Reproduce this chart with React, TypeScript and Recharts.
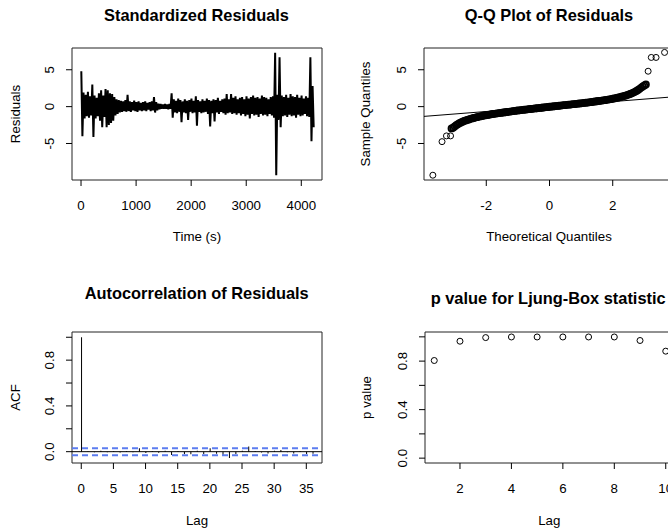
import React from 'react';
import {
  ComposedChart,
  ScatterChart,
  Line,
  Scatter,
  Bar,
  XAxis,
  YAxis,
  ReferenceLine,
  ReferenceArea,
} from 'recharts';

const FONT = '"Liberation Sans", Arial, Helvetica, sans-serif';
const TICK_FS = 13.3;

// ---------- Panel 1: standardized residuals (envelope per 40 s bin) ----------
const tsBinStart = 5;
const tsBinWidth = 40;
const tsHigh = [
  4.8, 1.9, 1.6, 2.0, 1.4, 3.0, 1.5, 1.2, 1.8, 2.2, 1.5, 2.4, 2.2, 1.8, 1.7, 1.3, 1.0, 0.9, 0.8, 0.7,
  0.9, 1.6, 0.7, 0.6, 0.8, 0.6, 0.7, 0.5, 0.6, 0.7, 0.5, 0.6, 0.7, 1.3, 0.6, 0.4, 0.35, 0.3, 0.35, 0.3,
  0.35, 1.8, 1.0, 0.8, 1.1, 0.9, 0.7, 1.0, 0.8, 0.9, 1.1, 0.8, 1.4, 0.9, 0.7, 1.0, 0.8, 1.1, 0.9, 0.8,
  1.0, 0.9, 1.2, 0.8, 1.0, 1.1, 1.7, 1.0, 1.7, 1.2, 1.4, 1.0, 1.2, 1.3, 1.0, 1.4, 1.1, 1.3, 1.5, 1.2,
  1.3, 1.1, 1.5, 1.3, 1.2, 1.0, 1.3, 1.4, 7.3, 1.6, 6.7, 1.5, 1.3, 1.6, 1.2, 1.7, 1.4, 1.3, 1.6, 1.2,
  1.5, 1.1, 1.4, 1.2, 6.7, 2.8,
];
const tsLow = [
  -4.0, -1.6, -1.3, -1.5, -1.2, -4.1, -1.6, -1.3, -1.9, -2.8, -1.4, -2.8, -2.5, -2.2, -1.9, -1.2, -1.0, -0.8, -0.7, -0.6,
  -0.7, -0.6, -0.7, -0.5, -0.6, -0.7, -0.5, -0.6, -0.5, -0.6, -0.4, -0.6, -0.5, -0.8, -0.5, -0.35, -0.3, -0.3, -0.3, -0.35,
  -0.3, -1.5, -0.8, -0.9, -0.7, -2.1, -0.8, -0.9, -1.8, -0.7, -0.9, -0.8, -2.6, -0.7, -0.9, -0.8, -0.7, -1.0, -2.7, -0.9,
  -2.0, -0.8, -1.0, -0.7, -0.9, -1.1, -0.9, -0.8, -1.0, -0.9, -1.1, -0.9, -1.2, -1.0, -1.3, -1.1, -1.6, -1.0, -1.2, -1.1,
  -1.4, -1.0, -1.2, -1.1, -1.3, -1.0, -1.2, -1.5, -9.3, -1.8, -2.8, -1.3, -1.2, -1.4, -1.1, -1.3, -1.2, -1.5, -1.1, -1.3,
  -1.2, -1.0, -1.3, -1.4, -4.7, -2.8,
];
const tsXTicks = [0, 1000, 2000, 3000, 4000];
const tsYTicks = [-5, 0, 5];

// ---------- Panel 2: Q-Q plot ----------
const qqTheoretical = [
  -3.1, -3.05, -3.0, -2.95, -2.9, -2.85, -2.8, -2.75, -2.7, -2.65, -2.6, -2.55, -2.5, -2.45, -2.4, -2.35,
  -2.3, -2.25, -2.2, -2.15, -2.1, -2.05, -2.0, -1.95, -1.9, -1.85, -1.8, -1.75, -1.7, -1.65, -1.6, -1.55,
  -1.5, -1.45, -1.4, -1.35, -1.3, -1.25, -1.2, -1.15, -1.1, -1.05, -1.0, -0.95, -0.9, -0.85, -0.8, -0.75,
  -0.7, -0.65, -0.6, -0.55, -0.5, -0.45, -0.4, -0.35, -0.3, -0.25, -0.2, -0.15, -0.1, -0.05, 0.0, 0.05,
  0.1, 0.15, 0.2, 0.25, 0.3, 0.35, 0.4, 0.45, 0.5, 0.55, 0.6, 0.65, 0.7, 0.75, 0.8, 0.85,
  0.9, 0.95, 1.0, 1.05, 1.1, 1.15, 1.2, 1.25, 1.3, 1.35, 1.4, 1.45, 1.5, 1.55, 1.6, 1.65,
  1.7, 1.75, 1.8, 1.85, 1.9, 1.95, 2.0, 2.05, 2.1, 2.15, 2.2, 2.25, 2.3, 2.35, 2.4, 2.45,
  2.5, 2.55, 2.6, 2.65, 2.7, 2.75, 2.8, 2.85, 2.9, 2.95, 3.0, 3.05,
];
const qqSample = [
  -2.95, -2.85, -2.68, -2.52, -2.38, -2.25, -2.14, -2.04, -1.95, -1.87, -1.8, -1.73, -1.66, -1.6, -1.54, -1.48,
  -1.43, -1.38, -1.33, -1.28, -1.24, -1.2, -1.16, -1.12, -1.08, -1.04, -1.0, -0.97, -0.94, -0.91, -0.88, -0.85,
  -0.82, -0.79, -0.76, -0.73, -0.7, -0.67, -0.64, -0.61, -0.58, -0.55, -0.52, -0.5, -0.47, -0.45, -0.42, -0.4,
  -0.37, -0.35, -0.32, -0.3, -0.27, -0.25, -0.22, -0.2, -0.17, -0.15, -0.12, -0.1, -0.07, -0.05, -0.02, 0.0,
  0.03, 0.05, 0.07, 0.1, 0.12, 0.14, 0.17, 0.19, 0.21, 0.24, 0.26, 0.28, 0.31, 0.33, 0.35, 0.38,
  0.4, 0.43, 0.45, 0.48, 0.5, 0.53, 0.55, 0.58, 0.61, 0.64, 0.67, 0.7, 0.73, 0.76, 0.79, 0.82,
  0.85, 0.88, 0.92, 0.95, 0.99, 1.03, 1.07, 1.11, 1.16, 1.21, 1.26, 1.31, 1.37, 1.43, 1.49, 1.56,
  1.63, 1.71, 1.8, 1.9, 2.01, 2.13, 2.27, 2.42, 2.58, 2.74, 2.88, 3.0,
];
const qqTailX = [-3.69, -3.4, -3.26, -3.13, 3.12, 3.22, 3.37, 3.64];
const qqTailY = [-9.3, -4.75, -3.97, -3.97, 4.8, 6.67, 6.67, 7.35];
const qqLineIntercept = 0.01;
const qqLineSlope = 0.336;
const qqXTicks = [-2, 0, 2];

// ---------- Panel 3: ACF ----------
const acfLags = [
  0, 1, 2, 3, 4, 5, 6, 7, 8, 9, 10, 11, 12, 13, 14, 15, 16, 17, 18, 19, 20, 21, 22, 23, 24, 25, 26, 27, 28,
  29, 30, 31, 32, 33, 34, 35, 36,
];
const acfValues = [
  1.0, 0.004, -0.006, 0.008, -0.004, 0.005, -0.008, 0.006, -0.005, 0.029, -0.012, 0.006, -0.01, 0.008,
  -0.03, 0.005, -0.02, -0.022, 0.007, -0.02, 0.03, -0.018, -0.028, -0.055, -0.02, 0.008, 0.045, 0.006,
  -0.008, -0.015, 0.007, 0.015, -0.006, -0.015, 0.005, -0.02, -0.018,
];
const acfCI = 0.0302;
const acfXTicks = [0, 5, 10, 15, 20, 25, 30, 35];
const unitYTicks = [0, 0.2, 0.4, 0.6, 0.8, 1.0];
const unitYLabels = [0, 0.4, 0.8];

// ---------- Panel 4: Ljung-Box p values ----------
const lbLags = [1, 2, 3, 4, 5, 6, 7, 8, 9, 10];
const lbPValues = [0.805, 0.964, 0.994, 0.999, 0.999, 0.999, 0.999, 0.999, 0.97, 0.882];
const lbXTicks = [2, 4, 6, 8, 10];

// ---------- derived tables ----------
const tsData: { t: number; v: number }[] = [];
tsHigh.forEach((h, i) => {
  tsData.push({ t: tsBinStart + i * tsBinWidth, v: h });
  tsData.push({ t: tsBinStart + i * tsBinWidth + tsBinWidth / 2, v: tsLow[i] });
});
const qqBandData = qqTheoretical.map((x, i) => ({ x, y: qqSample[i] }));
const qqTailData = qqTailX.map((x, i) => ({ x, y: qqTailY[i] }));
const acfData = acfLags.map((lag, i) => ({ lag, acf: acfValues[i] }));
const lbData = lbLags.map((x, i) => ({ x, y: lbPValues[i] }));

// domains (R's 4% padding)
const TS_X = [-164, 4376];
const RES_Y = [-9.95, 7.95];
const QQ_X = [-3.97, 3.97];
const ACF_X = [-1.44, 37.44];
const ACF_Y = [-0.099, 1.046];
const LB_X = [0.64, 10.36];
const LB_Y = [-0.04, 1.04];

const fmtNum = (v: number, digits: number) => (digits > 0 ? v.toFixed(digits) : String(v));

const makeXTick = (digits: number) => (p: any) => {
  const { x, y, payload } = p;
  return (
    <text x={x} y={y + 22.2} textAnchor="middle" fontSize={TICK_FS} fontFamily={FONT} fill="#000">
      {fmtNum(payload.value, digits)}
    </text>
  );
};

const makeYTick = (digits: number, show?: number[]) => (p: any) => {
  const { x, y, payload } = p;
  if (show && !show.some((s) => Math.abs(s - payload.value) < 1e-9)) return <g />;
  const cx = x - 14.3;
  return (
    <g transform={`translate(${cx},${y}) rotate(-90)`}>
      <text x={0} y={0} dy="0.36em" textAnchor="middle" fontSize={TICK_FS} fontFamily={FONT} fill="#000">
        {fmtNum(payload.value, digits)}
      </text>
    </g>
  );
};

const openCircle = (p: any) => (
  <circle cx={p.cx} cy={p.cy} r={3} fill="none" stroke="#000" strokeWidth={1} />
);
const denseCircle = (p: any) => (
  <circle cx={p.cx} cy={p.cy} r={3} fill="none" stroke="#000" strokeWidth={1.8} />
);

const BOX = '#222';
const tickLine = { stroke: '#000' };

const Title = ({ x, y, text, anchor = 'middle' }: any) => (
  <text x={x} y={y} textAnchor={anchor} fontSize={16.4} fontWeight="bold" fontFamily={FONT} fill="#000">
    {text}
  </text>
);
const AxisLabel = ({ x, y, text }: any) => (
  <text x={x} y={y} textAnchor="middle" fontSize={TICK_FS} fontFamily={FONT} fill="#000">
    {text}
  </text>
);
const VAxisLabel = ({ x, y, text }: any) => (
  <g transform={`translate(${x},${y}) rotate(-90)`}>
    <text x={0} y={0} textAnchor="middle" fontSize={TICK_FS} fontFamily={FONT} fill="#000">
      {text}
    </text>
  </g>
);

export default function App() {
  return (
    <div
      style={{
        position: 'absolute',
        left: 0,
        top: 0,
        width: 668,
        height: 532,
        overflow: 'hidden',
        background: '#fff',
      }}
    >
      {/* Panel 1 */}
      <div style={{ position: 'absolute', left: 0, top: 0 }}>
        <ComposedChart width={334} height={266} data={tsData} margin={{ top: 48, right: 12, bottom: 0, left: 0 }}>
          <XAxis
            type="number"
            dataKey="t"
            domain={TS_X}
            allowDataOverflow
            ticks={tsXTicks}
            interval={0}
            height={86}
            axisLine={false}
            tickLine={tickLine}
            tickSize={6}
            tick={makeXTick(0)}
          />
          <YAxis
            type="number"
            domain={RES_Y}
            allowDataOverflow
            ticks={tsYTicks}
            interval={0}
            width={72}
            axisLine={false}
            tickLine={tickLine}
            tickSize={6}
            tick={makeYTick(0)}
          />
          <ReferenceArea x1={TS_X[0]} x2={TS_X[1]} y1={RES_Y[0]} y2={RES_Y[1]} fill="none" stroke={BOX} strokeWidth={1} fillOpacity={0} />
          <Line type="linear" dataKey="v" stroke="#000" strokeWidth={2} dot={false} isAnimationActive={false} />
        </ComposedChart>
      </div>

      {/* Panel 2 */}
      <div style={{ position: 'absolute', left: 334, top: 0 }}>
        <ScatterChart width={350} height={266} margin={{ top: 48, right: 9, bottom: 0, left: 0 }}>
          <XAxis
            type="number"
            dataKey="x"
            domain={QQ_X}
            allowDataOverflow
            ticks={qqXTicks}
            interval={0}
            height={86}
            axisLine={false}
            tickLine={tickLine}
            tickSize={6}
            tick={makeXTick(0)}
          />
          <YAxis
            type="number"
            dataKey="y"
            domain={RES_Y}
            allowDataOverflow
            ticks={tsYTicks}
            interval={0}
            width={90}
            axisLine={false}
            tickLine={tickLine}
            tickSize={6}
            tick={makeYTick(0)}
          />
          <ReferenceArea x1={QQ_X[0]} x2={QQ_X[1]} y1={RES_Y[0]} y2={RES_Y[1]} fill="none" stroke={BOX} strokeWidth={1} fillOpacity={0} />
          <ReferenceLine
            segment={[
              { x: QQ_X[0], y: qqLineIntercept + qqLineSlope * QQ_X[0] },
              { x: QQ_X[1], y: qqLineIntercept + qqLineSlope * QQ_X[1] },
            ]}
            stroke="#000"
            strokeWidth={1}
          />
          <Scatter data={qqBandData} shape={denseCircle} isAnimationActive={false} />
          <Scatter data={qqTailData} shape={openCircle} isAnimationActive={false} />
        </ScatterChart>
      </div>

      {/* Panel 3 */}
      <div style={{ position: 'absolute', left: 0, top: 266 }}>
        <ComposedChart width={334} height={266} data={acfData} margin={{ top: 66, right: 12, bottom: 0, left: 0 }}>
          <XAxis
            type="number"
            dataKey="lag"
            domain={ACF_X}
            allowDataOverflow
            ticks={acfXTicks}
            interval={0}
            height={69}
            axisLine={false}
            tickLine={tickLine}
            tickSize={6}
            tick={makeXTick(0)}
          />
          <YAxis
            type="number"
            domain={ACF_Y}
            allowDataOverflow
            ticks={unitYTicks}
            interval={0}
            width={72}
            axisLine={false}
            tickLine={tickLine}
            tickSize={6}
            tick={makeYTick(1, unitYLabels)}
          />
          <ReferenceArea x1={ACF_X[0]} x2={ACF_X[1]} y1={ACF_Y[0]} y2={ACF_Y[1]} fill="none" stroke={BOX} strokeWidth={1} fillOpacity={0} />
          <ReferenceLine y={acfCI} stroke="#5b7cf0" strokeWidth={2} strokeDasharray="6 4" />
          <ReferenceLine y={-acfCI} stroke="#5b7cf0" strokeWidth={2} strokeDasharray="6 4" />
          <ReferenceLine y={0} stroke="#000" strokeWidth={1} />
          <Bar dataKey="acf" barSize={1} fill="#000" isAnimationActive={false} />
        </ComposedChart>
      </div>

      {/* Panel 4 */}
      <div style={{ position: 'absolute', left: 334, top: 266 }}>
        <ScatterChart width={350} height={266} margin={{ top: 66, right: 9, bottom: 0, left: 0 }}>
          <XAxis
            type="number"
            dataKey="x"
            domain={LB_X}
            allowDataOverflow
            ticks={lbXTicks}
            interval={0}
            height={69}
            axisLine={false}
            tickLine={tickLine}
            tickSize={6}
            tick={makeXTick(0)}
          />
          <YAxis
            type="number"
            dataKey="y"
            domain={LB_Y}
            allowDataOverflow
            ticks={unitYTicks}
            interval={0}
            width={91}
            axisLine={false}
            tickLine={tickLine}
            tickSize={6}
            tick={makeYTick(1, unitYLabels)}
          />
          <ReferenceArea x1={LB_X[0]} x2={LB_X[1]} y1={LB_Y[0]} y2={LB_Y[1]} fill="none" stroke={BOX} strokeWidth={1} fillOpacity={0} />
          <Scatter data={lbData} shape={openCircle} isAnimationActive={false} />
        </ScatterChart>
      </div>

      {/* Titles and axis labels */}
      <svg width={668} height={532} style={{ position: 'absolute', left: 0, top: 0, pointerEvents: 'none' }}>
        <Title x={196.5} y={20.5} text="Standardized Residuals" />
        <Title x={549} y={20.5} text="Q-Q Plot of Residuals" />
        <Title x={196.7} y={299.3} text="Autocorrelation of Residuals" />
        <Title x={430.7} y={304} text="p value for Ljung-Box statistic" anchor="start" />
        <AxisLabel x={197} y={241} text="Time (s)" />
        <AxisLabel x={549} y={241} text="Theoretical Quantiles" />
        <AxisLabel x={197} y={525} text="Lag" />
        <AxisLabel x={549.3} y={525} text="Lag" />
        <VAxisLabel x={20} y={114} text="Residuals" />
        <VAxisLabel x={370} y={114} text="Sample Quantiles" />
        <VAxisLabel x={20} y={397.5} text="ACF" />
        <VAxisLabel x={371} y={397.5} text="p value" />
      </svg>
    </div>
  );
}
